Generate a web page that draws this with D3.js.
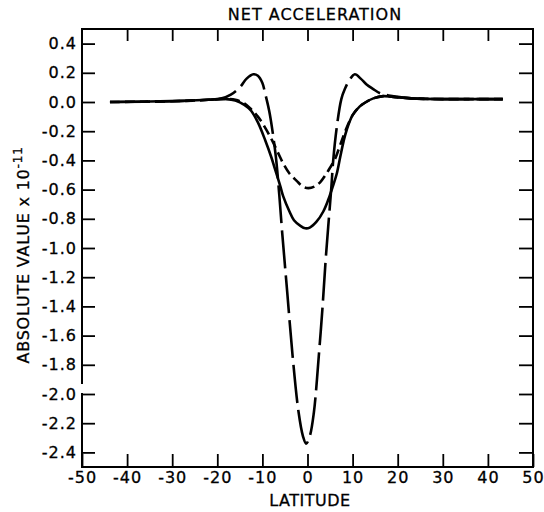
<!DOCTYPE html>
<html>
<head>
<meta charset="utf-8">
<script src="https://d3js.org/d3.v7.min.js"></script>
<style>
  body { margin: 0; background: #fff; }
  text { font-family: "DejaVu Sans", "Liberation Sans", sans-serif; fill: #000; stroke: #000; stroke-width: 0.3; }
</style>
</head>
<body>
<div id="chart_area"></div>
<script>

// Latitude / value pairs
var solidLat = [-43.8, -35, -28, -22, -18, -16, -14, -12.5, -11, -9.4, -8, -7.2, -6, -5.4, -4, -3, -1.5, -0.5, 0.5, 2, 3.5, 4.6, 5.6, 6.5, 7.3, 8, 8.7, 10, 11.6, 13, 14.6, 16.8, 19, 23, 30, 38, 43.3];
var solidVal = [0.0, 0.003, 0.008, 0.015, 0.02, 0.01, -0.02, -0.06, -0.14, -0.26, -0.38, -0.46, -0.58, -0.645, -0.75, -0.81, -0.85, -0.865, -0.86, -0.82, -0.75, -0.67, -0.58, -0.49, -0.37, -0.27, -0.19, -0.09, -0.03, 0.0, 0.025, 0.04, 0.035, 0.025, 0.02, 0.02, 0.02];

var shortLat = [-43.8, -30, -22, -18, -16, -14, -12.5, -11, -9.5, -7.9, -6.5, -5.4, -4, -2.4, -1, 0.2, 1.5, 2.8, 4, 5, 6.1, 7.3, 8.5, 10, 11.6, 13, 14.6, 16.8, 19, 23, 30, 43.3];
var shortVal = [0.0, 0.005, 0.015, 0.02, 0.015, -0.01, -0.05, -0.1, -0.17, -0.26, -0.35, -0.42, -0.49, -0.54, -0.58, -0.59, -0.58, -0.55, -0.5, -0.45, -0.39, -0.29, -0.19, -0.09, -0.03, 0.0, 0.025, 0.04, 0.035, 0.025, 0.02, 0.02];

var longLat = [-43.8, -30, -22, -19, -17, -15, -13.5, -12, -11, -10, -9.4, -8.5, -7.9, -7, -6.3, -5.6, -4.5, -3.3, -2, -1, -0.3, 0.5, 1.4, 2.5, 3.3, 4.1, 5.3, 5.7, 6.5, 7.5, 8.3, 9.3, 10.5, 11.8, 13.1, 14.5, 16.1, 18, 19.8, 23, 30, 43.3];
var longVal = [0.0, 0.005, 0.015, 0.025, 0.05, 0.1, 0.16, 0.19, 0.18, 0.13, 0.06, -0.06, -0.17, -0.38, -0.62, -0.9, -1.3, -1.74, -2.12, -2.29, -2.34, -2.29, -2.13, -1.74, -1.42, -1.05, -0.58, -0.4, -0.17, 0.02, 0.09, 0.15, 0.19, 0.16, 0.12, 0.09, 0.06, 0.045, 0.036, 0.025, 0.02, 0.02];

// Tick values
var xTicks = [-50, -40, -30, -20, -10, 0, 10, 20, 30, 40, 50];
var yTicks = [0.4, 0.2, 0.0, -0.2, -0.4, -0.6, -0.8, -1.0, -1.2, -1.4, -1.6, -1.8, -2.0, -2.2, -2.4];

var frame_width = 544;
var frame_height = 512;

var svg = d3.select("#chart_area").append("svg")
  .attr("width", frame_width)
  .attr("height", frame_height);

var xScale = d3.scaleLinear().domain([-50, 50]).range([82, 533]);
var yScale = d3.scaleLinear().domain([-2.5, 0.5]).range([467, 29]);

var fmt = d3.format(".1f");

// bottom axis, ticks point up into the box
var xAxis = d3.axisBottom(xScale)
  .tickValues(xTicks)
  .tickSize(-13)
  .tickPadding(5)
  .tickFormat(d3.format("d"));

svg.append("g")
  .attr("class", "x axis")
  .attr("transform", "translate(0," + yScale(-2.5) + ")")
  .call(xAxis);

// top ticks, no labels
svg.append("g")
  .attr("class", "x axis top")
  .attr("transform", "translate(0," + yScale(0.5) + ")")
  .call(d3.axisTop(xScale).tickValues(xTicks.slice(1, -1)).tickSize(-12).tickFormat(""));

// left axis, ticks pointing inwards
var yAxis = d3.axisLeft(yScale)
  .tickValues(yTicks)
  .tickSize(-13)
  .tickPadding(5)
  .tickFormat(fmt);

svg.append("g")
  .attr("class", "y axis")
  .attr("transform", "translate(" + xScale(-50) + ",0)")
  .call(yAxis);

// right ticks
svg.append("g")
  .attr("class", "y axis right")
  .attr("transform", "translate(" + xScale(50) + ",0)")
  .call(d3.axisRight(yScale).tickValues(yTicks).tickSize(-14).tickFormat(""));

svg.selectAll(".axis .domain").remove();
svg.selectAll(".axis line").attr("stroke", "#000").attr("stroke-width", 1.8);
svg.selectAll(".axis text")
  .style("font-size", "16px")
  .style("letter-spacing", "1px")
  .text(function (d) { return d3.select(this).text().replace("\u2212", "-"); });

// box around the plot, left side has a break between -1.8 and -2.0
var box = [
  [[-50, 0.5], [50, 0.5]],
  [[50, 0.5], [50, -2.5]],
  [[-50, -2.5], [50, -2.5]],
  [[-50, 0.5], [-50, -1.925]],
  [[-50, -2.0], [-50, -2.5]]
];
svg.append("g").selectAll("line")
  .data(box)
  .enter().append("line")
  .attr("x1", function (d) { return xScale(d[0][0]); })
  .attr("y1", function (d) { return yScale(d[0][1]); })
  .attr("x2", function (d) { return xScale(d[1][0]); })
  .attr("y2", function (d) { return yScale(d[1][1]); })
  .attr("stroke", "#000")
  .attr("stroke-width", 2)
  .attr("stroke-linecap", "square");

// curves
var line = d3.line()
  .x(function (d) { return xScale(d[0]); })
  .y(function (d) { return yScale(d[1]); })
  .curve(d3.curveCatmullRom.alpha(0.5));

var series = [
  { lat: solidLat, val: solidVal, dash: null },
  { lat: shortLat, val: shortVal, dash: "10,5" },
  { lat: longLat, val: longVal, dash: "38,7" }
];

series.forEach(function (s) {
  var pts = s.lat.map(function (l, i) { return [l, s.val[i]]; });
  svg.append("path")
    .attr("d", line(pts))
    .attr("fill", "none")
    .attr("stroke", "#000")
    .attr("stroke-width", 2.6)
    .attr("stroke-dasharray", s.dash);
});

// titles
svg.append("text")
  .attr("x", 315)
  .attr("y", 20)
  .attr("text-anchor", "middle")
  .style("font-size", "16px")
  .style("letter-spacing", "1px")
  .text("NET ACCELERATION");

svg.append("text")
  .attr("x", 310)
  .attr("y", 506)
  .attr("text-anchor", "middle")
  .style("font-size", "16px")
  .style("letter-spacing", "0.5px")
  .text("LATITUDE");

var ylab = svg.append("text")
  .attr("transform", "translate(29,255) rotate(-90)")
  .attr("text-anchor", "middle")
  .style("font-size", "16px")
  .style("letter-spacing", "0.8px");
ylab.append("tspan").text("ABSOLUTE VALUE x 10");
ylab.append("tspan").attr("dy", -7).style("font-size", "12px").text("-11");

</script>
</body>
</html>
